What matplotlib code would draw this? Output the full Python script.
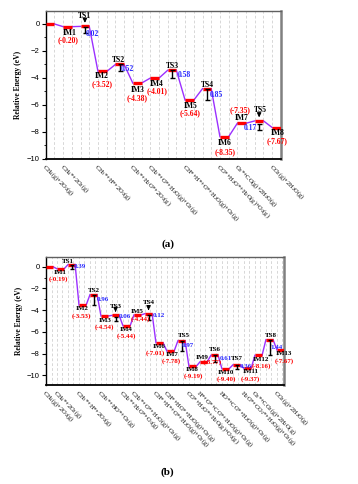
import matplotlib
matplotlib.use('Agg')
import matplotlib.pyplot as plt
from matplotlib.ticker import MultipleLocator

plt.rcParams['font.family'] = ['Liberation Serif', 'DejaVu Serif']
plt.rcParams['mathtext.default'] = 'regular'

# ---------------- data: panel (a) ----------------
states_a = ['R', 'IM1', 'TS1', 'IM2', 'TS2', 'IM3', 'IM4', 'TS3', 'IM5', 'TS4', 'IM6', 'IM7', 'TS5', 'IM8']
energy_a = [0.00, -0.20, -0.18, -3.52, -3.00, -4.38, -4.01, -3.43, -5.64, -4.79, -8.35, -7.35, -7.18, -7.67]
barrier_a = {'TS1': 0.02, 'TS2': 0.52, 'TS3': 0.58, 'TS4': 0.85, 'TS5': 0.17}
species_a = ['CH$_4$(g)+2O$_2$(g)', 'CH$_4$*+2O$_2$(g)', 'CH$_3$*+H*+2O$_2$(g)',
             'CH$_3$*+H$_2$O*+2O$_2$(g)', 'CH$_2$*+O*+H$_2$O(g)+O$_2$(g)',
             'CH*+H*+O*+H$_2$O(g)+O$_2$(g)', 'CO*+H$_2$O*+H$_2$O(g)+O$_2$(g)',
             'O$_2$*+CO(g)+2H$_2$O(g)', 'CO$_2$(g)+2H$_2$O(g)']
species_state_a = ['R', 'IM1', 'IM2', 'IM3', 'IM4', 'IM5', 'IM6', 'IM7', 'IM8']

# ---------------- data: panel (b) ----------------
states_b = ['R', 'IM1', 'TS1', 'IM2', 'TS2', 'IM3', 'TS3', 'IM4', 'IM5', 'TS4', 'IM6', 'IM7', 'TS5',
            'IM8', 'IM9', 'TS6', 'IM10', 'TS7', 'IM11', 'IM12', 'TS8', 'IM13']
energy_b = [0.00, -0.19, 0.20, -3.53, -2.57, -4.54, -4.48, -5.44, -4.44, -4.32, -7.01, -7.78, -6.81,
            -9.19, -8.77, -8.16, -9.40, -9.04, -9.37, -8.16, -6.72, -7.67]
barrier_b = {'TS1': 0.39, 'TS2': 0.96, 'TS3': 0.06, 'TS4': 0.12, 'TS5': 0.97, 'TS6': 0.61,
             'TS7': 0.36, 'TS8': 1.44}
species_b = ['CH$_4$(g)+2O$_2$(g)', 'CH$_4$*+2O$_2$(g)', 'CH$_3$*+H*+2O$_2$(g)',
             'CH$_3$*+HO*+O$_2$(g)', 'CH$_2$*+H$_2$O*+O$_2$(g)', 'CH$_2$*+O*+H$_2$O(g)+O$_2$(g)',
             'CH*+H*+O*+H$_2$O(g)+O$_2$(g)', 'CH*+HO*+H$_2$O(g)+O$_2$(g)',
             'CO*+H$_2$O*+H$_2$O(g)+O$_2$(g)', 'H*+O*+CO*+H$_2$O(g)+O$_2$(g)',
             'HO*+CO*+H$_2$O(g)+O$_2$(g)', 'H$_2$O*+CO$_2$*+H$_2$O(g)+O$_2$(g)',
             'O$_2$*+CO$_2$(g)+2H$_2$O(g)', 'CO$_2$(g)+2H$_2$O(g)']
species_state_b = ['R', 'IM1', 'IM2', 'IM3', 'IM4', 'IM5', 'IM6', 'IM7', 'IM8', 'IM9', 'IM10',
                   'IM11', 'IM12', 'IM13']

# ---------------- layout (label offsets relative to bar centre / level) ----------------
name_off_a = {'IM1': (0.2, -0.46), 'IM2': (-0.1, -0.35), 'IM3': (0.1, -0.52), 'IM4': (0.2, -0.40),
              'IM5': (0.1, -0.44), 'IM6': (0.0, -0.45), 'IM7': (0.0, 0.35), 'IM8': (0.1, -0.43),
              'TS1': (0.0, 0.80), 'TS2': (-0.1, 0.32), 'TS3': (0.0, 0.33), 'TS4': (0.1, 0.26),
              'TS5': (0.1, 0.80)}
en_off_a = {'IM1': (0.1, -1.0), 'IM2': (0.0, -0.96), 'IM3': (0.0, -1.13), 'IM4': (0.3, -0.94),
            'IM5': (0.1, -0.98), 'IM6': (0.1, -1.15), 'IM7': (-0.2, 0.97), 'IM8': (0.0, -0.98)}
bar_off_a = {'TS1': (0.15, -0.60, 'left'), 'TS2': (0.15, -0.35, 'left'), 'TS3': (0.6, -0.37, 'left'),
             'TS4': (0.3, -0.48, 'left'), 'TS5': (-0.2, -0.52, 'right')}

name_off_b = {'IM1': (0.0, -0.36), 'TS1': (-0.6, 0.30), 'IM2': (0.0, -0.36), 'TS2': (0.0, 0.38),
              'IM3': (0.1, -0.40), 'TS3': (0.0, 0.80), 'IM4': (0.0, -0.33), 'IM5': (0.0, 0.32),
              'TS4': (0.0, 1.05), 'IM6': (0.0, -0.36), 'IM7': (0.3, -0.31), 'TS5': (0.4, 0.50),
              'IM8': (-0.1, -0.30), 'IM9': (-0.3, 0.45), 'TS6': (0.0, 0.54), 'IM10': (0.1, -0.30),
              'TS7': (0.0, 0.58), 'IM11': (0.6, -0.32), 'IM12': (0.5, -0.36), 'TS8': (0.2, 0.36),
              'IM13': (0.7, -0.36)}
en_off_b = {'IM1': (-0.3, -0.98), 'IM2': (-0.2, -0.98), 'IM3': (-0.1, -1.02), 'IM4': (0.0, -0.95),
            'IM5': (0.6, -0.41), 'IM6': (-0.7, -0.98), 'IM7': (0.2, -0.93), 'IM8': (0.1, -0.92),
            'IM9': (1.6, 0.02), 'IM10': (0.2, -0.92), 'IM11': (0.6, -0.94), 'IM12': (0.5, -0.98),
            'IM13': (0.7, -0.98)}
bar_off_b = {'TS1': (0.4, None, 'left'), 'TS2': (0.6, None, 'left'), 'TS3': (0.55, -0.12, 'left'),
             'TS4': (0.7, -0.18, 'left'), 'TS5': (0.1, None, 'left'), 'TS6': (0.9, None, 'left'),
             'TS7': (0.5, -0.13, 'left'), 'TS8': (0.1, None, 'left')}

RED = '#ff0000'
PURPLE = '#9b30ff'
BLUE = '#2a2aff'


def draw_panel(ax, states, energy, barrier, species, species_state, name_off, en_off, bar_off,
               width, xmax, ylim, cap, fs):
    n = len(states)
    x0 = [2 * i for i in range(n)]
    ctr = [x + width / 2 for x in x0]
    for i in range(n - 1):
        ax.plot([x0[i] + width, x0[i + 1]], [energy[i], energy[i + 1]], color=PURPLE, lw=1.0, zorder=2)
    for i in range(n):
        ax.plot([x0[i], x0[i] + width], [energy[i], energy[i]], color=RED, lw=2.4,
                solid_capstyle='butt', zorder=3)
    for i, s in enumerate(states):
        e = energy[i]
        if s in name_off:
            dx, dy = name_off[s]
            ax.text(ctr[i] + dx, e + dy, s, ha='center', va='center', fontsize=fs,
                    fontweight='bold', color='black', zorder=5)
        if s in en_off:
            dx, dy = en_off[s]
            ax.text(ctr[i] + dx, e + dy, '(%.2f)' % e, ha='center', va='center', fontsize=fs,
                    fontweight='bold', color=RED, zorder=5)
        if s in barrier:
            b = barrier[s]
            prev = energy[i - 1]
            x = ctr[i]
            if b >= 0.3:
                ax.errorbar([x], [(prev + e) / 2], yerr=[[b / 2], [b / 2]], fmt='none',
                            ecolor='black', elinewidth=1.0, capsize=cap, capthick=1.0, zorder=4)
            else:
                ax.annotate('', xy=(x, e + 0.05), xytext=(x, e + 0.7),
                            arrowprops=dict(arrowstyle='-|>,head_length=0.25,head_width=0.12',
                                            color='black', lw=0.8), zorder=4)
                ax.errorbar([x], [prev - 0.27], yerr=[[0.22], [0.22]], fmt='none',
                            ecolor='black', elinewidth=1.0, capsize=cap, capthick=1.0, zorder=4)
            dx, dy, ha = bar_off[s]
            y = (prev + e) / 2 if dy is None else e + dy
            ax.text(x + dx, y, '%.2f' % b, ha=ha, va='center', fontsize=fs, fontweight='bold',
                    color=BLUE, zorder=5)
    for lab, s in zip(species, species_state):
        i = states.index(s)
        ax.text(x0[i] + 0.15, ylim[0] - 0.25, lab, rotation=-45, rotation_mode='anchor',
                ha='left', va='top', fontsize=4.6, color='black')

    ax.set_xlim(0, xmax)
    ax.set_ylim(*ylim)
    ax.set_xticks([])
    for g in range(1, int(xmax) + 1):
        ax.axvline(g, color='#c8c8c8', lw=0.5, ls=(0, (4, 3)), zorder=0)
    ax.yaxis.set_major_locator(MultipleLocator(2))
    ax.yaxis.set_minor_locator(MultipleLocator(1))
    ax.tick_params(axis='y', which='major', direction='out', length=3, width=0.8, labelsize=5.5,
                   pad=1.5)
    ax.tick_params(axis='y', which='minor', direction='out', length=1.5, width=0.6)
    for lbl in ax.get_yticklabels():
        lbl.set_family(['Liberation Sans', 'DejaVu Sans'])
    ax.set_ylabel('Relative Energy (eV)', fontsize=5.5, fontweight='bold', labelpad=3)
    ax.spines['left'].set_linewidth(1.0)
    ax.spines['bottom'].set_linewidth(1.3)
    ax.spines['top'].set_color('#606060')
    ax.spines['right'].set_color('#808080')
    ax.spines['top'].set_linewidth(1.0)
    ax.spines['right'].set_linewidth(1.8)


fig = plt.figure(figsize=(3.58, 4.84), dpi=100)
ax_a = fig.add_axes([0.1277, 0.6715, 0.657, 0.3055])
ax_b = fig.add_axes([0.1285, 0.2045, 0.665, 0.2645])

draw_panel(ax_a, states_a, energy_a, barrier_a, species_a, species_state_a,
           name_off_a, en_off_a, bar_off_a, width=1.0, xmax=27, ylim=(-10, 0.95), cap=1.8, fs=5.5)
draw_panel(ax_b, states_b, energy_b, barrier_b, species_b, species_state_b,
           name_off_b, en_off_b, bar_off_b, width=1.3, xmax=43.3, ylim=(-10.9, 0.9), cap=1.5, fs=5.0)

fig.text(0.469, 1 - 244 / 484, '(a)', ha='center', va='center', fontsize=8, fontweight='bold')
fig.text(0.466, 1 - 472 / 484, '(b)', ha='center', va='center', fontsize=8, fontweight='bold')

fig.savefig('out.png', dpi=100)
